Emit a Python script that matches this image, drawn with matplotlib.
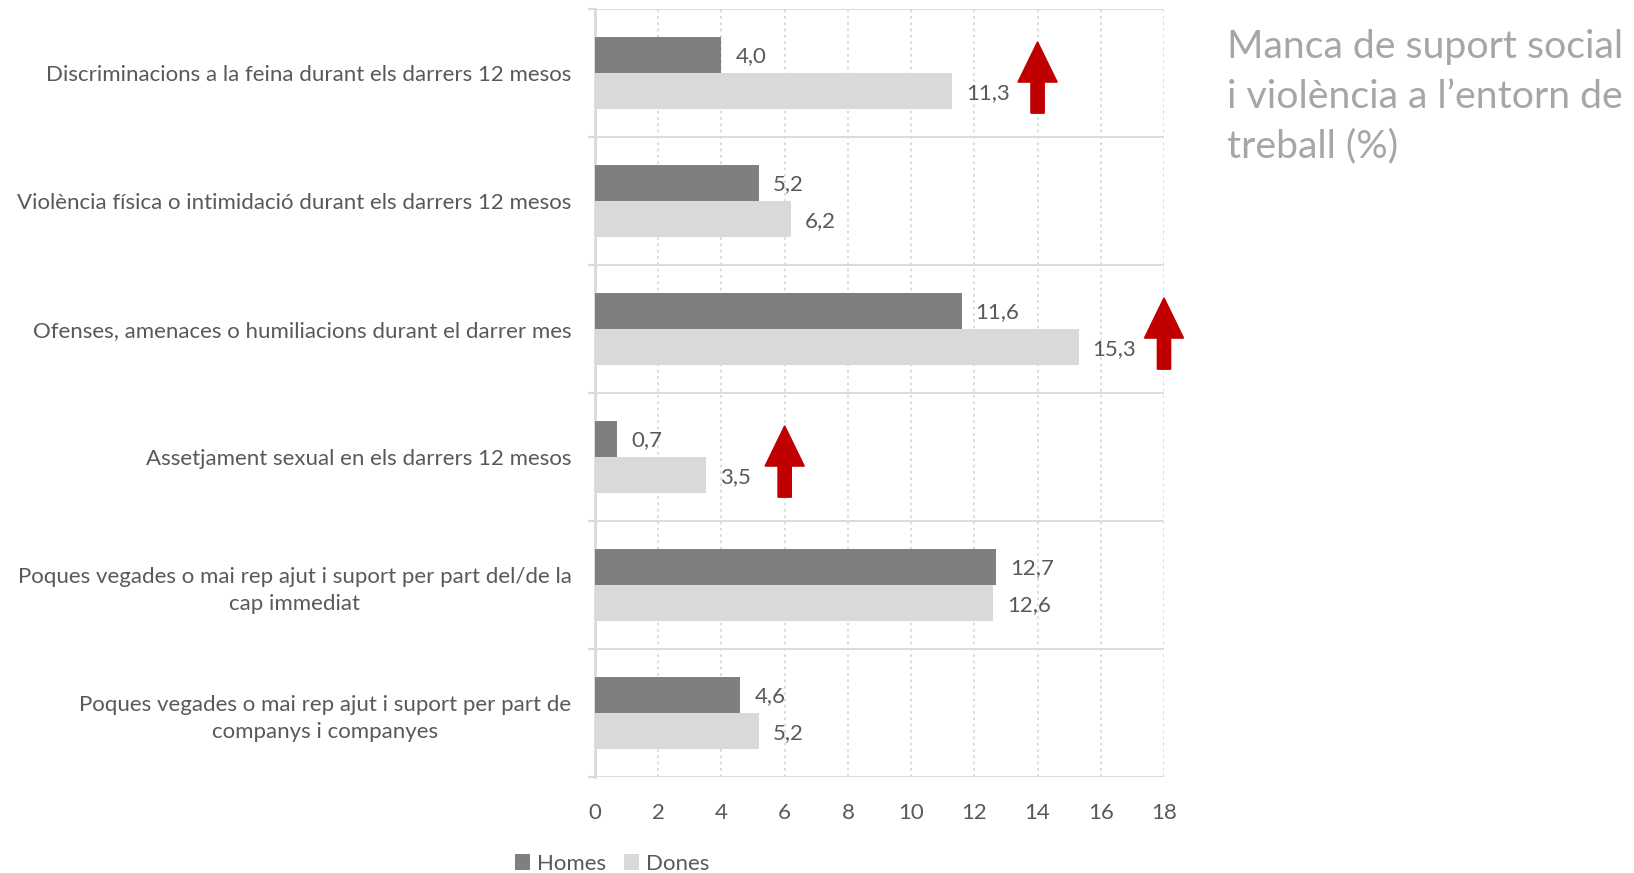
import matplotlib
matplotlib.use("Agg")
import matplotlib.pyplot as plt
from matplotlib.patches import FancyArrow, Patch

categories = [
    "Discriminacions a la feina durant els darrers 12 mesos",
    "Violència física o intimidació durant els darrers 12 mesos",
    "Ofenses, amenaces o humiliacions durant el darrer mes",
    "Assetjament sexual en els darrers 12 mesos",
    "Poques vegades o mai rep ajut i suport per part del/de la\ncap immediat",
    "Poques vegades o mai rep ajut i suport per part de\ncompanys i companyes",
]
homes = [4.0, 5.2, 11.6, 0.7, 12.7, 4.6]
dones = [11.3, 6.2, 15.3, 3.5, 12.6, 5.2]
# categories flagged with an upward arrow, and the x value where it sits
arrow_cats = [0, 2, 3]
arrow_x = [14, 18, 6]
xticks = [0, 2, 4, 6, 8, 10, 12, 14, 16, 18]
title = "Manca de suport social\ni violència a l\u2019entorn de\ntreball (%)"

plt.rcParams["font.family"] = ["Lato", "DejaVu Sans"]
TXT = "#595959"
GRID = "#D9D9D9"
C_HOMES = "#7F7F7F"
C_DONES = "#D9D9D9"
RED = "#C00000"

fig = plt.figure(figsize=(16.34, 8.73), dpi=100)
ax = fig.add_axes([595 / 1634, 1 - 777 / 873, 569 / 1634, 768 / 873])

n = len(categories)
ys = list(range(n))
bh = 0.285
ax.barh([y - bh / 2 for y in ys], homes, height=bh, color=C_HOMES, zorder=3)
ax.barh([y + bh / 2 for y in ys], dones, height=bh, color=C_DONES, zorder=3)

def fmt(v):
    return f"{v:.1f}".replace(".", ",")

for y, h, d in zip(ys, homes, dones):
    ax.annotate(fmt(h), (h, y - bh / 2), xytext=(10, -1), textcoords="offset points",
                va="center", ha="left", fontsize=16, color=TXT, zorder=4)
    ax.annotate(fmt(d), (d, y + bh / 2), xytext=(10, -1), textcoords="offset points",
                va="center", ha="left", fontsize=16, color=TXT, zorder=4)

for c, xa in zip(arrow_cats, arrow_x):
    ax.add_patch(FancyArrow(xa, c + 0.314, 0, -0.557, width=0.42, head_width=1.24,
                            head_length=0.314, length_includes_head=True,
                            color=RED, zorder=5, clip_on=False))

ax.set_xlim(0, 18)
ax.set_ylim(n - 0.5, -0.5)
ax.set_xticks(xticks)
ax.set_xticklabels([str(t) for t in xticks])
ax.set_yticks(ys)
ax.set_yticklabels(categories)
ax.set_yticks([b - 0.5 for b in range(n + 1)], minor=True)

ax.tick_params(axis="y", which="major", length=0, pad=17, labelsize=16, labelcolor=TXT)
ax.tick_params(axis="y", which="minor", length=5, color=GRID, width=1.5)
ax.tick_params(axis="x", length=0, pad=19, labelsize=16, labelcolor=TXT)
for lbl in ax.get_yticklabels():
    lbl.set_multialignment("center")
    lbl.set_linespacing(1.45)

ax.grid(axis="x", which="major", color=GRID, linestyle=(0, (1.5, 2)), linewidth=1.3, zorder=0)
ax.grid(axis="y", which="minor", color=GRID, linestyle="-", linewidth=1.3, zorder=0)
for s in ["top", "right", "bottom"]:
    ax.spines[s].set_visible(False)
ax.spines["left"].set_color(GRID)
ax.spines["left"].set_linewidth(2)
ax.spines["left"].set_zorder(2)

fig.text(1227 / 1634, 1 - 29 / 873, title, ha="left", va="top", fontsize=28.3,
         color="#A6A6A6", linespacing=1.47)

handles = [Patch(facecolor=C_HOMES, label="Homes"), Patch(facecolor=C_DONES, label="Dones")]
fig.legend(handles=handles, loc="center", bbox_to_anchor=(612 / 1634, 1 - 864 / 873),
           ncol=2, frameon=False, fontsize=16, labelcolor=TXT, handlelength=0.7,
           handleheight=0.7, handletextpad=0.3, columnspacing=0.8, borderaxespad=0)

fig.savefig("out.png", dpi=100)
